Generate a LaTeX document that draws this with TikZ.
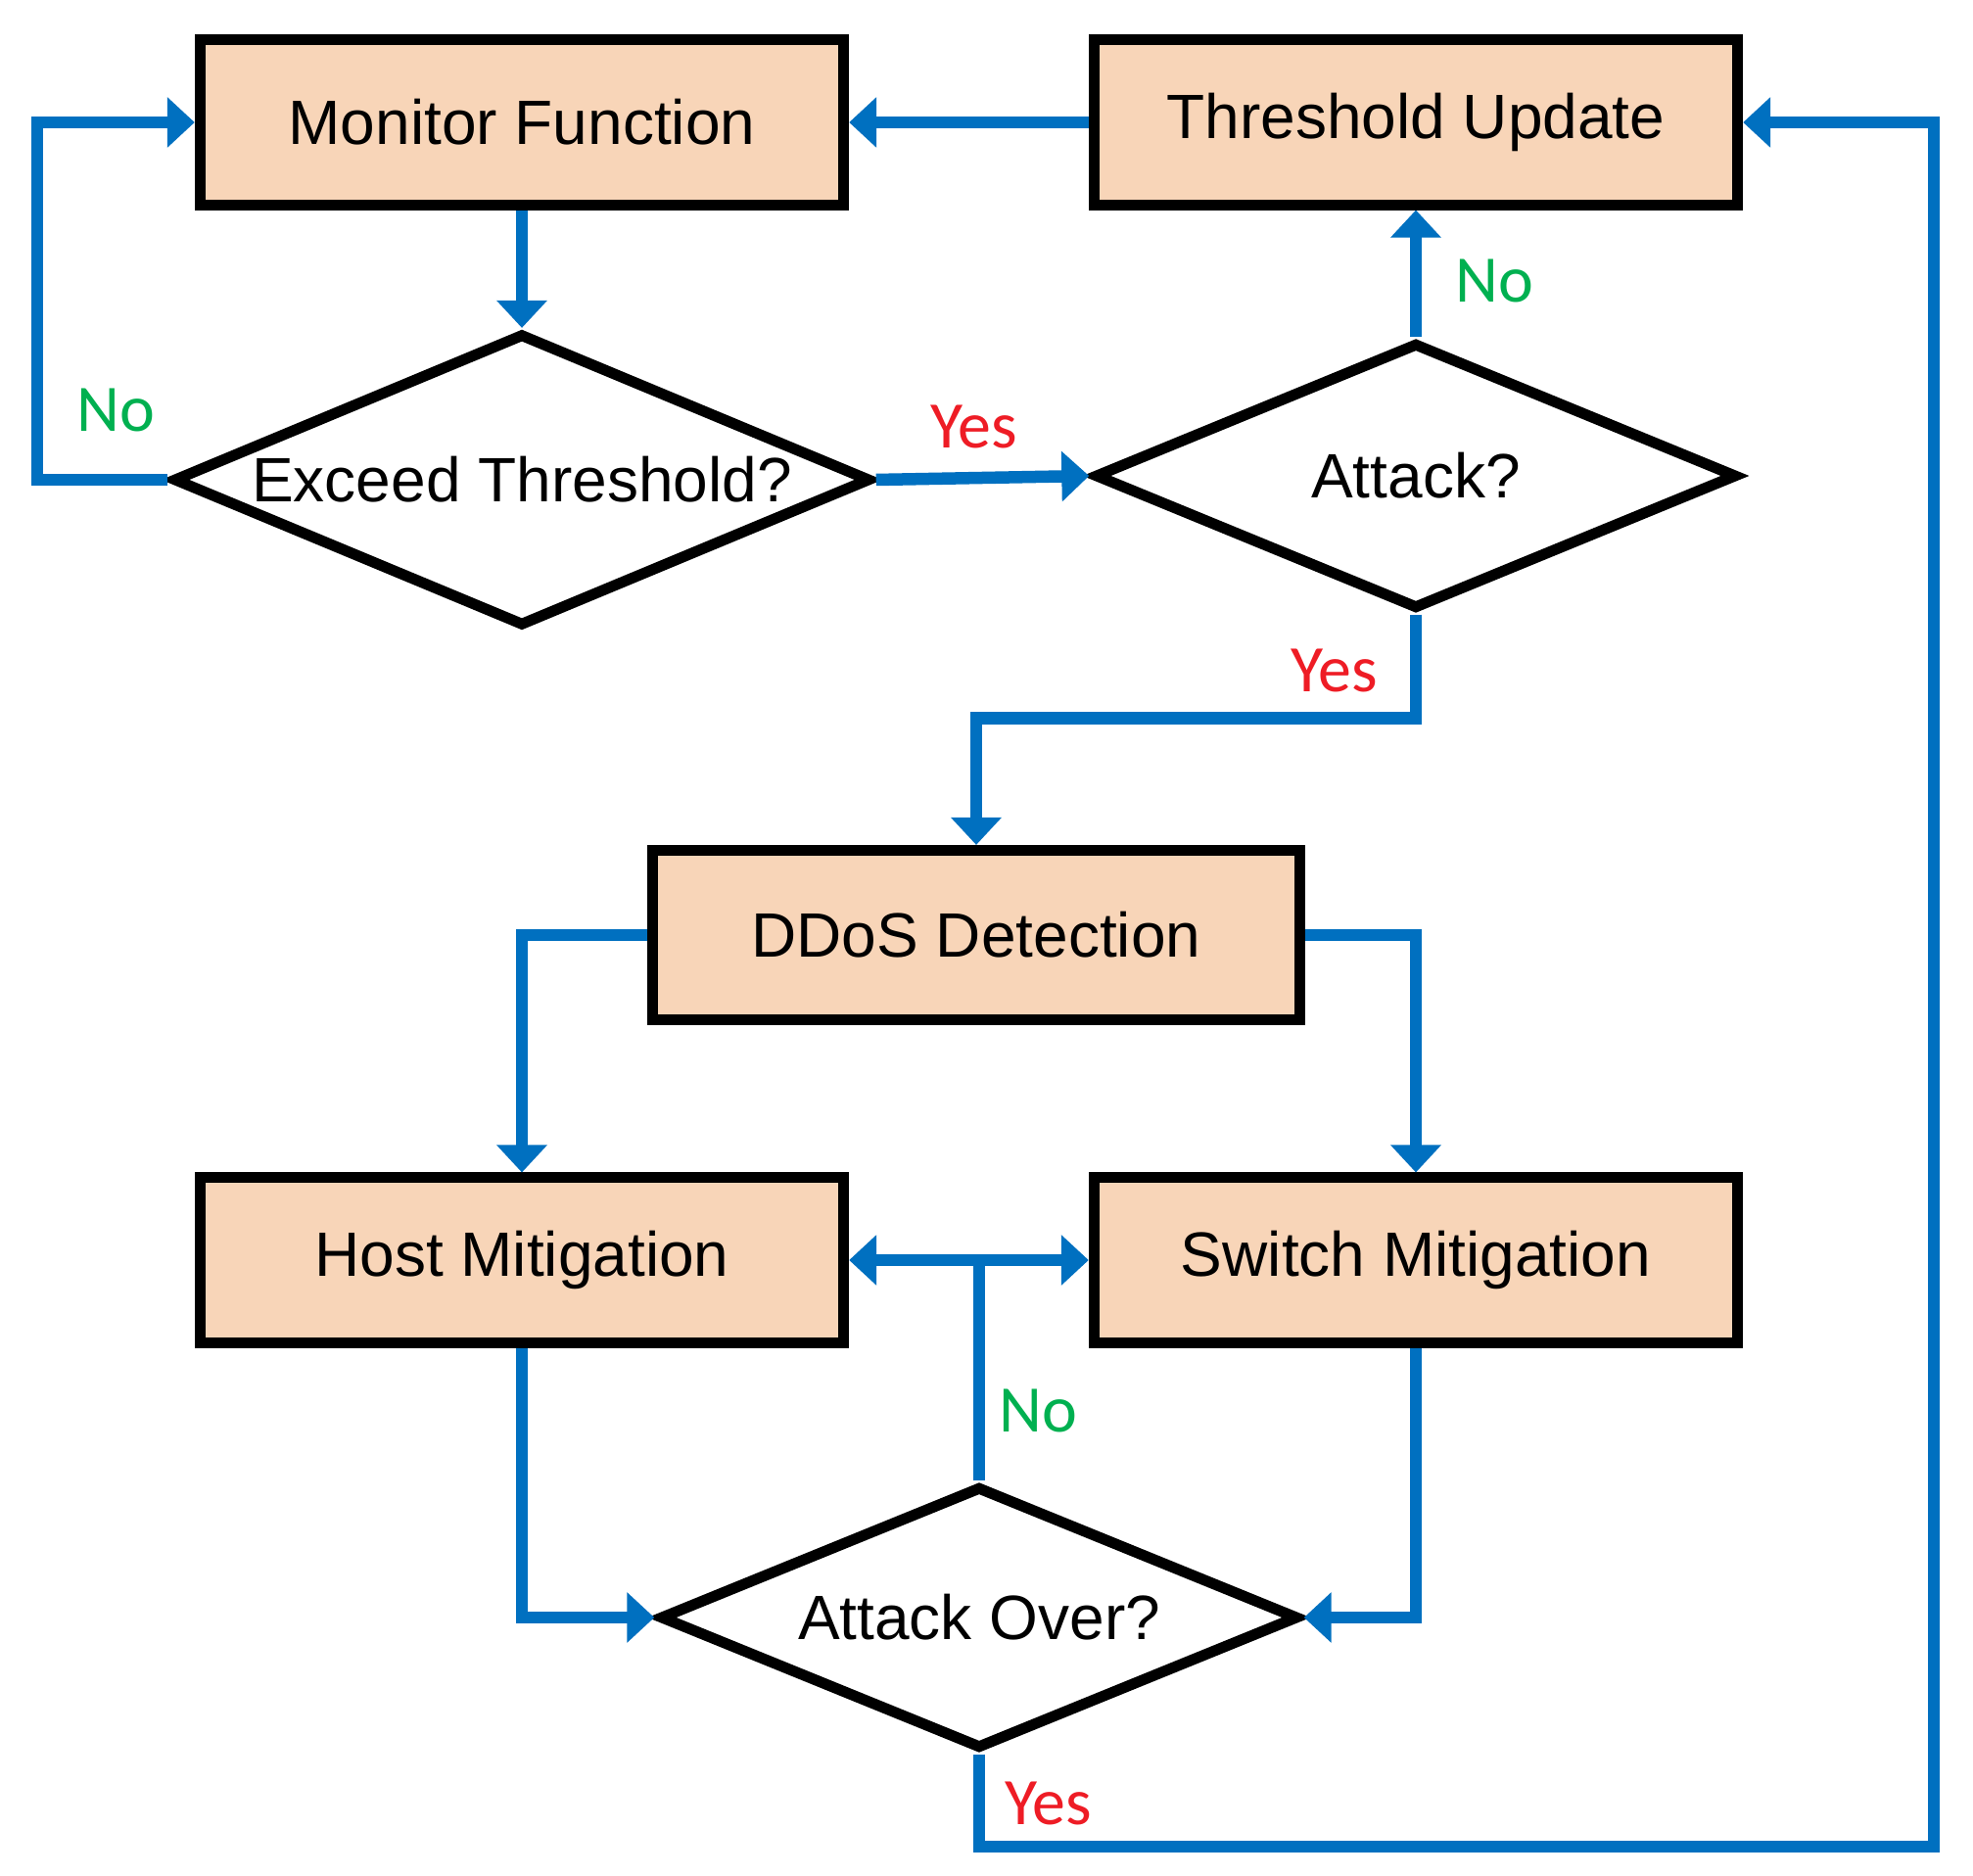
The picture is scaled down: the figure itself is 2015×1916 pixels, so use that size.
\documentclass[tikz,border=0pt]{standalone}
\usepackage{fontspec}
\setmainfont{Liberation Sans}
\newfontfamily\lblfont{Carlito}
\usetikzlibrary{arrows.meta,shapes.geometric}
\definecolor{flowblue}{HTML}{0070C0}
\definecolor{peach}{HTML}{F8D5B8}
\definecolor{yesred}{HTML}{EE1C25}
\definecolor{nogreen}{HTML}{00B050}
\begin{document}
\begin{tikzpicture}[x=0.01cm,y=-0.01cm,
  box/.style={draw=black, line width=0.11cm, fill=peach, minimum width=6.57cm,
    minimum height=1.68cm, inner sep=0pt, font=\fontsize{18.2}{20}\selectfont},
  decision/.style={diamond, draw=black, line width=0.11cm, fill=white, inner sep=0pt,
    aspect=2.38, font=\fontsize{18.2}{20}\selectfont},
  wire/.style={draw=flowblue, line width=0.125cm},
  conn/.style={wire, -{Triangle[length=0.28cm,width=0.5cm]}},
  yeslbl/.style={text=yesred, font=\lblfont\fontsize{19.3}{22}\selectfont},
  nolbl/.style={text=nogreen, font=\lblfont\fontsize{19.3}{22}\selectfont}]
\fill[white] (0,0) rectangle (2015,1916);
\useasboundingbox (0,0) rectangle (2015,1916);

% nodes
\node[box] (monitor) at (533,125) {Monitor Function};
\node[box] (threshold) at (1446,125) {Threshold Update};
\node[decision, minimum width=7.12cm, minimum height=2.99cm] (exceed) at (533,490) {Exceed Threshold?};
\node[decision, minimum width=6.56cm, minimum height=2.72cm] (attack) at (1446,486) {Attack?};
\node[box, minimum width=6.6cm, minimum height=1.73cm] (ddos) at (997,955) {DDoS Detection};
\node[box] (host) at (533,1287) {Host Mitigation};
\node[box] (switch) at (1446,1287) {Switch Mitigation};
\node[decision, minimum width=6.52cm, minimum height=2.68cm] (over) at (1000,1652) {Attack Over?};

% helper coordinates
\coordinate (lb) at (38,490);
\coordinate (rb) at (1975,1886);
\coordinate (tj) at (1000,1287);

% connectors
\draw[conn] (monitor.south) -- (exceed.north);
\draw[conn] (exceed.east) -- (attack.west);
\draw[conn] (threshold.west) -- (monitor.east);
\draw[conn] (exceed.west) -- (lb) |- (monitor.west);
\draw[conn] (attack.north) -- (threshold.south);
\draw[conn] (attack.south) -- ++(0,106) -| (ddos.north);
\draw[conn] (ddos.west) -| (host.north);
\draw[conn] (ddos.east) -| (switch.north);
\draw[conn] (host.south) |- (over.west);
\draw[conn] (switch.south) |- (over.east);
\draw[wire] (over.north) -- (tj);
\draw[conn] (tj) -- (host.east);
\draw[conn] (tj) -- (switch.west);
\draw[conn] (over.south) |- (rb) |- (threshold.east);

% labels
\node[nolbl] (no1) at (118,419) {No};
\node[yeslbl] (yes1) at (995,436) {Yes};
\node[nolbl] (no2) at (1526,287) {No};
\node[yeslbl] (yes2) at (1363,685) {Yes};
\node[nolbl] (no3) at (1060,1441) {No};
\node[yeslbl] (yes3) at (1071,1842) {Yes};
\end{tikzpicture}
\end{document}
